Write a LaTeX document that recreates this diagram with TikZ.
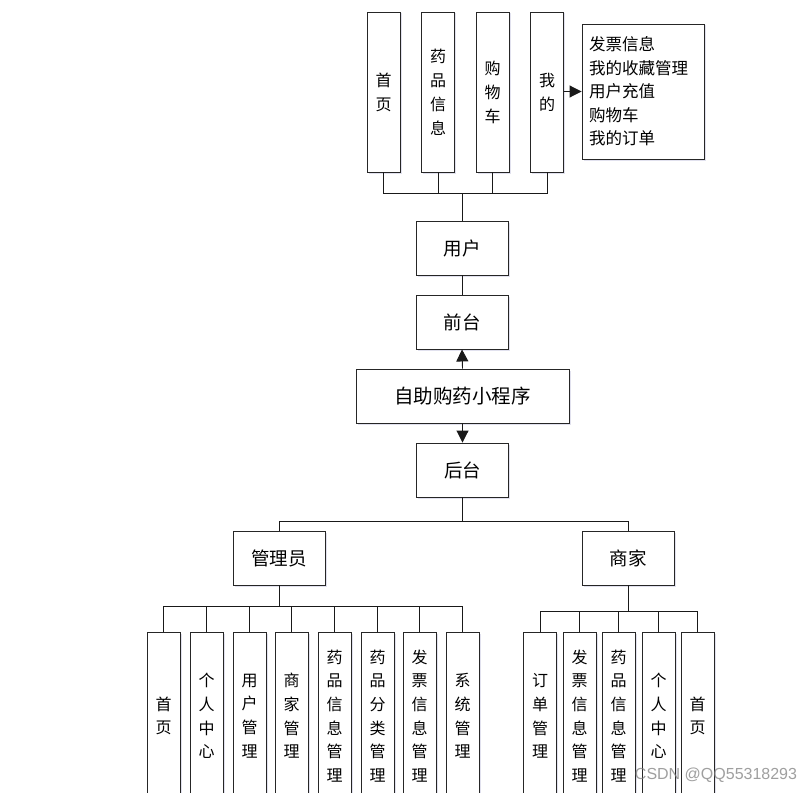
\documentclass[tikz,border=0pt]{standalone}
\usepackage{fontspec}
\setmainfont{Noto Sans CJK SC}
\newfontfamily\wmfont{Liberation Sans}
\usetikzlibrary{arrows.meta,shadows}
\begin{document}
\begin{tikzpicture}[x=1pt,y=-1pt,
  box/.style={draw=black!85, line width=0.9pt, fill=white, inner sep=0pt,
    drop shadow={shadow xshift=1.5pt, shadow yshift=-1.5pt, opacity=0.18, fill=blue!30!gray}},
  vbox/.style={box, minimum width=33pt, align=center, font=\fontsize{16}{24}\selectfont},
  topbox/.style={vbox, minimum height=160pt},
  botbox/.style={vbox, minimum height=168pt, font=\fontsize{16}{23.7}\selectfont},
  mainbox/.style={box, minimum width=92pt, minimum height=54pt, font=\fontsize{18.5}{20}\selectfont},
  link/.style={draw=black!90, line width=0.9pt},
  arr/.style={link, -{Triangle[length=12pt,width=12pt]}}
]
\useasboundingbox (0,0) rectangle (810,792);
\clip (0,0) rectangle (810,792);
\fill[white] (0,0) rectangle (810,792);

% top row
\node[topbox] (t1) at (383.5,92) {首\\页};
\node[topbox] (t2) at (438,92) {药\\品\\信\\息};
\node[topbox] (t3) at (492.5,92) {购\\物\\车};
\node[topbox] (t4) at (547,92) {我\\的};
\node[box, minimum width=122pt, minimum height=135pt, text width=108pt, align=left,
  font=\fontsize{16.5}{23.5}\selectfont] (list) at (643,91.5)
  {发票信息\\我的收藏管理\\用户充值\\购物车\\我的订单};

% middle column
\node[mainbox] (user) at (462,248) {用户};
\node[mainbox] (front) at (462,322) {前台};
\node[box, minimum width=213pt, minimum height=54pt, font=\fontsize{19.5}{22}\selectfont] (app) at (462.5,396) {自助购药小程序};
\node[mainbox] (back) at (462.5,470) {后台};
\node[mainbox] (admin) at (279,558) {管理员};
\node[mainbox] (shop) at (628,558) {商家};

% admin row
\node[botbox] (a1) at (163.5,716) {首\\页};
\node[botbox] (a2) at (206.5,716) {个\\人\\中\\心};
\node[botbox] (a3) at (249.5,716) {用\\户\\管\\理};
\node[botbox] (a4) at (291.5,716) {商\\家\\管\\理};
\node[botbox] (a5) at (334.5,716) {药\\品\\信\\息\\管\\理};
\node[botbox] (a6) at (377.5,716) {药\\品\\分\\类\\管\\理};
\node[botbox] (a7) at (419.5,716) {发\\票\\信\\息\\管\\理};
\node[botbox] (a8) at (462.5,716) {系\\统\\管\\理};

% shop row
\node[botbox] (s1) at (540,716) {订\\单\\管\\理};
\node[botbox] (s2) at (579.5,716) {发\\票\\信\\息\\管\\理};
\node[botbox] (s3) at (618.5,716) {药\\品\\信\\息\\管\\理};
\node[botbox] (s4) at (658.5,716) {个\\人\\中\\心};
\node[botbox] (s5) at (697.5,716) {首\\页};

% buses
\coordinate (tbus) at (462,193);
\coordinate (mbus) at (462.5,521);
\coordinate (abus) at (279,606);
\coordinate (sbus) at (628,611);

% connectors
\foreach \n in {t1,t2,t3,t4} \draw[link] (\n.south) |- (tbus);
\draw[link] (tbus) -- (user.north);
\draw[link] (user.south) -- (front.north);
\draw[arr] (t4.east |- list.west) -- (list.west);
\draw[arr] (app.north) -- (front.south);
\draw[arr] (app.south) -- (back.north);
\draw[link] (back.south) -- (mbus);
\draw[link] (mbus) -| (admin.north);
\draw[link] (mbus) -| (shop.north);
\draw[link] (admin.south) -- (abus);
\foreach \n in {a1,a2,a3,a4,a5,a6,a7,a8} \draw[link] (\n.north) |- (abus);
\draw[link] (shop.south) -- (sbus);
\foreach \n in {s1,s2,s3,s4,s5} \draw[link] (\n.north) |- (sbus);

% watermark
\node[font=\wmfont\fontsize{16}{18}\selectfont, text=gray, opacity=0.75, inner sep=0pt] (wm) at (716,775) {CSDN @QQ55318293};
\end{tikzpicture}
\end{document}
